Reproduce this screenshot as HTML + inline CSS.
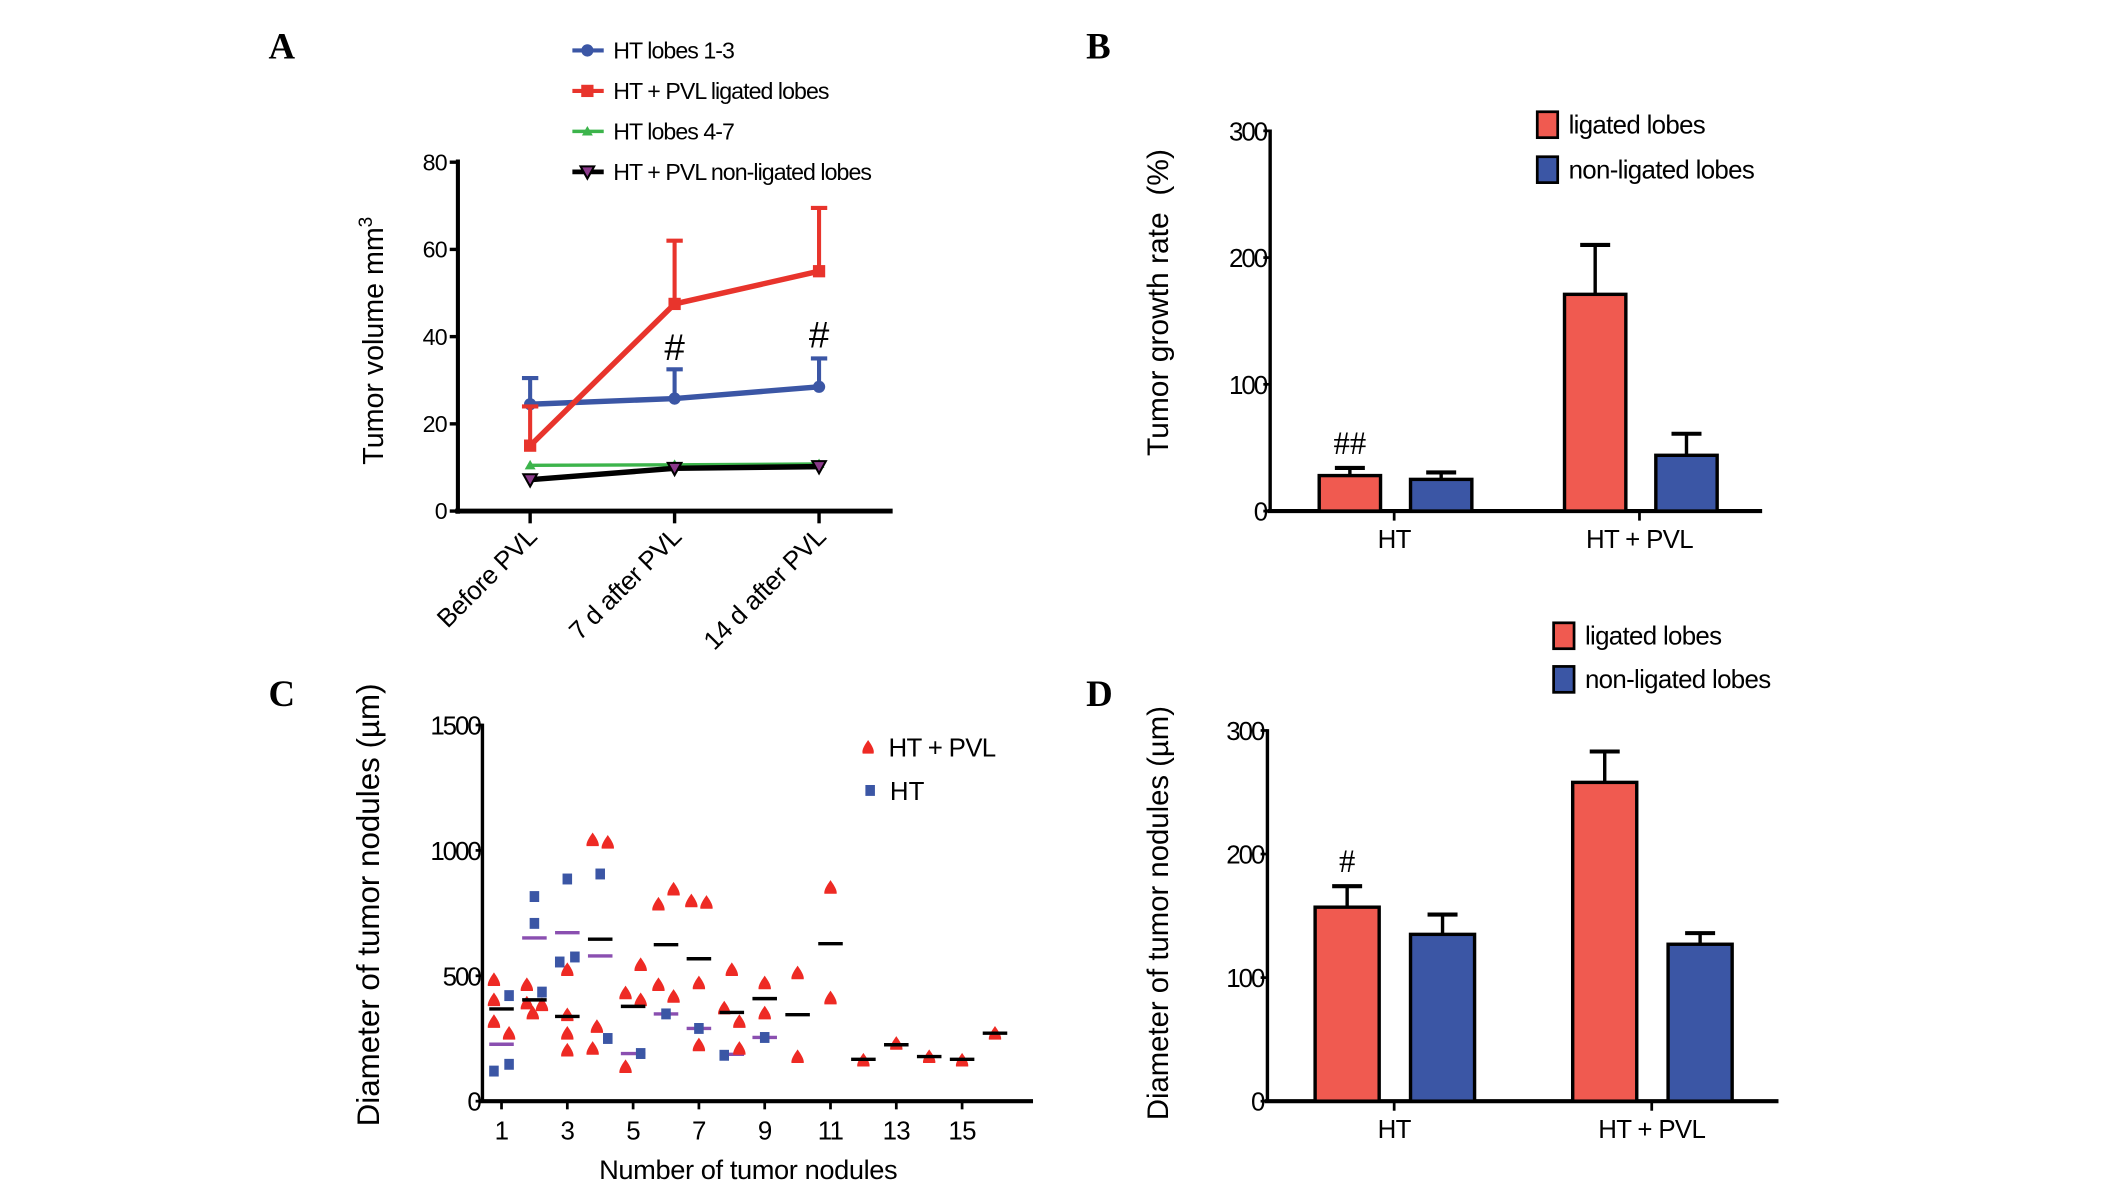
<!DOCTYPE html>
<html><head><meta charset="utf-8"><style>
html,body{margin:0;padding:0;background:#fff}
svg{display:block;font-family:"Liberation Sans",Arial,sans-serif}
</style></head><body>
<svg id="fig" xmlns="http://www.w3.org/2000/svg" width="2126" height="1182" viewBox="0 0 1560 867.3">
<rect width="1560" height="867.3" fill="#fff"/>
</svg>
<script>
// Panel A data
const catsA = ["Before PVL","7 d after PVL","14 d after PVL"];
const blueA = [24.5,25.8,28.5], blueErrA = [30.5,32.5,35];
const redA = [15,47.5,55], redErrA = [24,62,69.5];
const greenA = [10.5,10.6,10.8];
const blackA = [7.2,9.8,10.2];
const ticksA = [0,20,40,60,80];
// Panel B data
const groupsB = ["HT","HT + PVL"];
const ligB = [28,171], ligErrB = [34,210];
const nonB = [25,44], nonErrB = [30.5,61];
const ticksB = [0,100,200,300];
// Panel C data
const redCx = [0.77,0.77,0.77,1.23, 1.77,1.77,1.95,2.23, 3,3,3,3, 3.77,4.23,3.9,3.77, 5.23,4.77,5.23,4.77, 5.77,6.23,5.77,6.23, 6.77,7.23,7,7, 8,7.77,8.23,8.23, 9,9, 10,10, 11,11, 12,13,14,15,16];
const redCy = [401,314,481,267, 461,388,348,381, 521,341,267,200, 1039,1029,294,207, 541,428,401,134, 782,842,461,414, 795,789,468,221, 521,368,314,207, 468,348, 508,174, 849,408, 160,227,174,160,267];
const blueCx = [0.77,1.23,1.23, 2,2,2.23, 3,2.77,3.23, 4,4.23, 5.23, 6, 7, 7.77, 9];
const blueCy = [120,147,421, 816,709,435, 886,555,575, 906,250, 190, 348, 290, 183, 254];
const meanCx = [1,2,3,4,5,6,7,8,9,10,11,12,13,14,15,16];
const meanCy = [368,404,338,646,378,624,568,354,409,345,628,167,225,178,167,271];
const meanHTx = [1,2,3,4,5,6,7,8,9];
const meanHTy = [227,651,672,579,190,348,290,187,254];
const ticksCy = [0,500,1000,1500];
const ticksCx = [1,3,5,7,9,11,13,15];
// Panel D data
const groupsD = ["HT","HT + PVL"];
const ligD = [157,258], ligErrD = [174,283];
const nonD = [135,127], nonErrD = [151,136];
const ticksD = [0,100,200,300];

const svg = document.getElementById('fig');
const NS = "http://www.w3.org/2000/svg";
function mk(tag, attrs, parent){const e=document.createElementNS(NS,tag);for(const k in attrs)e.setAttribute(k,attrs[k]);(parent||svg).appendChild(e);return e;}
function txt(s, attrs, parent){const e=mk('text',attrs,parent);e.textContent=s;return e;}
const RED="#f05a50", REDL="#e8342c", BLUE="#3b56a5", GREEN="#3cb44b";

// ---------- Panel A ----------
const gA = mk('g',{});


const yA = v => 375 - v*3.2;
const xA = i => 389 + i*106;
let t = txt('A',{x:197,y:43,'font-family':'Liberation Serif','font-weight':'bold','font-size':27},gA);
 
mk('line',{x1:336,y1:117,x2:336,y2:377,stroke:'#000','stroke-width':3},gA);
mk('line',{x1:334,y1:375,x2:655,y2:375,stroke:'#000','stroke-width':3.5},gA);
ticksA.forEach(v=>{mk('line',{x1:330,y1:yA(v),x2:336,y2:yA(v),stroke:'#000','stroke-width':2.5},gA);
 const e=txt(String(v),{x:328,y:yA(v)+6,'text-anchor':'end','font-size':17,'letter-spacing':-0.5},gA);
  });
catsA.forEach((c,i)=>{mk('line',{x1:xA(i),y1:375,x2:xA(i),y2:384,stroke:'#000','stroke-width':2.5},gA);
 const e=txt(c,{x:0,y:0,'text-anchor':'end','font-size':19,'letter-spacing':-0.3,transform:`translate(${xA(i)+6},${395}) rotate(-45)`},gA);
  });
t=mk('text',{x:0,y:0,'text-anchor':'middle','font-size':21,transform:'translate(281,250) rotate(-90)'},gA);
t.innerHTML='Tumor volume mm<tspan font-size="14" dy="-8">3</tspan>';
 
function series(vals, errs, color, lw, marker, name){
  const g=mk('g',{},gA);
   
  if(errs) vals.forEach((v,i)=>{mk('line',{x1:xA(i),y1:yA(v),x2:xA(i),y2:yA(errs[i]),stroke:color,'stroke-width':3},g);
    mk('line',{x1:xA(i)-6,y1:yA(errs[i]),x2:xA(i)+6,y2:yA(errs[i]),stroke:color,'stroke-width':3},g);});
  mk('polyline',{points:vals.map((v,i)=>xA(i)+','+yA(v)).join(' '),fill:'none',stroke:color,'stroke-width':lw},g);
  vals.forEach((v,i)=>marker(g,xA(i),yA(v),color));
}
const circ=(g,x,y,c)=>mk('circle',{cx:x,cy:y,r:4.5,fill:c},g);
const sq=(g,x,y,c)=>mk('rect',{x:x-4.5,y:y-4.5,width:9,height:9,fill:c},g);
const tri=(g,x,y,c)=>mk('path',{d:`M${x},${y-4} l4,7 h-8z`,fill:c},g);
const itri=(g,x,y,c)=>mk('path',{d:`M${x-5},${y-4} h10 l-5,9z`,fill:'#8b3a8b',stroke:'#000','stroke-width':1.5},g);
series(greenA,null,GREEN,2.5,tri,'series-ht-lobes-4-7');
series(blackA,null,'#000',4,itri,'series-pvl-non-ligated');
series(blueA,blueErrA,BLUE,4,circ,'series-ht-lobes-1-3');
series(redA,redErrA,REDL,4,sq,'series-pvl-ligated');
t=txt('#',{x:xA(1),y:264,'text-anchor':'middle','font-size':27},gA);  
t=txt('#',{x:xA(2),y:255,'text-anchor':'middle','font-size':27},gA);  
const legA=[["HT lobes 1-3",BLUE,circ,3],["HT + PVL ligated lobes",REDL,sq,3],["HT lobes 4-7",GREEN,tri,2.5],["HT + PVL non-ligated lobes","#000",itri,3.5]];
legA.forEach((l,i)=>{const g=mk('g',{},gA);
  
 const y=37+i*29.7;
 mk('line',{x1:420,y1:y,x2:443,y2:y,stroke:l[1],'stroke-width':l[3]},g); l[2](g,431,y,l[1]);
 txt(l[0],{x:450,y:y+6,'font-size':17,'letter-spacing':-0.7},g);});

// ---------- Bar panel helper ----------
function barPanel(name,label,labY,ax,y0,ytop,vmax,xend,ticks,groups,gx,lig,ligE,non,nonE,bw,off,title,titleX,titleY,titleFs,legY,legX,sig,sigY){
  const g=mk('g',{});
   
  const y=v=>y0-(y0-ytop)*v/vmax;
  let e=txt(label,{x:797,y:labY,'font-family':'Liberation Serif','font-weight':'bold','font-size':27},g);
   
  mk('line',{x1:ax,y1:ytop-1,x2:ax,y2:y0+1,stroke:'#000','stroke-width':2.5},g);
  mk('line',{x1:ax-2,y1:y0,x2:xend,y2:y0,stroke:'#000','stroke-width':3},g);
  ticks.forEach(v=>{mk('line',{x1:ax-5,y1:y(v),x2:ax,y2:y(v),stroke:'#000','stroke-width':2},g);
    const e=txt(String(v),{x:ax-3,y:y(v)+7,'text-anchor':'end','font-size':19,'letter-spacing':-1.5},g);
     });
  groups.forEach((c,i)=>{mk('line',{x1:gx[i],y1:y0,x2:gx[i],y2:y0+7,stroke:'#000','stroke-width':2},g);
    const e=txt(c,{x:gx[i],y:y0+27,'text-anchor':'middle','font-size':19,'letter-spacing':-0.5},g);
     });
  function bar(v,err,x,fill,n){
    mk('line',{x1:x+bw/2,y1:y(v),x2:x+bw/2,y2:y(err),stroke:'#000','stroke-width':2.5},g);
    mk('line',{x1:x+bw/2-11,y1:y(err),x2:x+bw/2+11,y2:y(err),stroke:'#000','stroke-width':3},g);
    const r=mk('rect',{x:x,y:y(v),width:bw,height:y0-y(v),fill:fill,stroke:'#000','stroke-width':2.5},g);
     
  }
  groups.forEach((c,i)=>{bar(lig[i],ligE[i],gx[i]-off[0],RED,'bar-ligated'); bar(non[i],nonE[i],gx[i]+off[1],BLUE,'bar-non-ligated');});
  e=txt(title,{x:0,y:0,'text-anchor':'middle','font-size':titleFs,transform:`translate(${titleX},${titleY}) rotate(-90)`},g);
   
  [["ligated lobes",RED],["non-ligated lobes",BLUE]].forEach((l,i)=>{const lg=mk('g',{},g);
     
    mk('rect',{x:legX,y:legY[i]-9,width:15,height:19,fill:l[1],stroke:'#000','stroke-width':2},lg);
    txt(l[0],{x:legX+23,y:legY[i]+7,'font-size':19,'letter-spacing':-0.5},lg);});
  e=txt(sig,{x:gx[0]-off[0]+bw/2,y:sigY,'text-anchor':'middle','font-size':24,'font-family':'Liberation Serif'},g);
   
}
barPanel('panel-b','B',43,932,375,96,300,1293,ticksB,groupsB,[1023,1203],ligB,ligErrB,nonB,nonErrB,45,[55,12],'Tumor growth rate\u00a0\u00a0(%)',857,222,22,[91,124],1128,'##',333);
barPanel('panel-d','D',518,930,808,536,300,1305,ticksD,groupsD,[1023,1212],ligD,ligErrD,nonD,nonErrD,47,[58,12],'Diameter of tumor nodules (µm)',857,670,21.5,[466,498],1140,'#',640);

// ---------- Panel C ----------
const gC=mk('g',{});
 
const yC=v=>808-v*(276/1500);
const xC=n=>368+(n-1)*24.14;
t=txt('C',{x:197,y:518,'font-family':'Liberation Serif','font-weight':'bold','font-size':27},gC);  
mk('line',{x1:354,y1:531,x2:354,y2:809,stroke:'#000','stroke-width':2.5},gC);
mk('line',{x1:352,y1:808,x2:758,y2:808,stroke:'#000','stroke-width':3},gC);
ticksCy.forEach(v=>{mk('line',{x1:349,y1:yC(v),x2:354,y2:yC(v),stroke:'#000','stroke-width':2},gC);
 const e=txt(String(v),{x:352,y:yC(v)+7,'text-anchor':'end','font-size':19,'letter-spacing':-1.5},gC);
  });
ticksCx.forEach(v=>{mk('line',{x1:xC(v),y1:808,x2:xC(v),y2:814,stroke:'#000','stroke-width':2},gC);
 const e=txt(String(v),{x:xC(v),y:836,'text-anchor':'middle','font-size':19,'letter-spacing':-0.5},gC);
  });
t=txt('Number of tumor nodules',{x:549,y:865,'text-anchor':'middle','font-size':20,'letter-spacing':-0.3},gC);  
t=txt('Diameter of tumor nodules (µm)',{x:0,y:0,'text-anchor':'middle','font-size':23,transform:'translate(278,664) rotate(-90)'},gC);  
meanHTx.forEach((n,i)=>{const l=mk('line',{x1:xC(n)-9,y1:yC(meanHTy[i]),x2:xC(n)+9,y2:yC(meanHTy[i]),stroke:'#8a4fb0','stroke-width':2.5},gC);
  });
blueCx.forEach((n,i)=>{const r=mk('rect',{x:xC(n)-3.5,y:yC(blueCy[i])-4,width:7,height:8,fill:BLUE},gC);
  });
redCx.forEach((n,i)=>{const x=xC(n),y=yC(redCy[i]);const p=mk('path',{d:`M${x},${y-6} C${x+2},${y-3} ${x+5},${y+1} ${x+4.5},${y+4} L${x-4.5},${y+4} C${x-5},${y+1} ${x-2},${y-3} ${x},${y-6}Z`,fill:'#ee2a24'},gC);
  });
meanCx.forEach((n,i)=>{const l=mk('line',{x1:xC(n)-9,y1:yC(meanCy[i]),x2:xC(n)+9,y2:yC(meanCy[i]),stroke:'#000','stroke-width':2.5},gC);
  });
let lg=mk('g',{},gC);  
mk('path',{d:'M637,543 C639,546 642,550 641,553 L633,553 C632,550 635,546 637,543Z',fill:'#ee2a24'},lg);
txt('HT + PVL',{x:652,y:555,'font-size':19,'letter-spacing':-0.5},lg);
lg=mk('g',{},gC);  
mk('rect',{x:635,y:576,width:7,height:8,fill:BLUE},lg);
txt('HT',{x:653,y:587,'font-size':19},lg);
</script>
</body></html>
